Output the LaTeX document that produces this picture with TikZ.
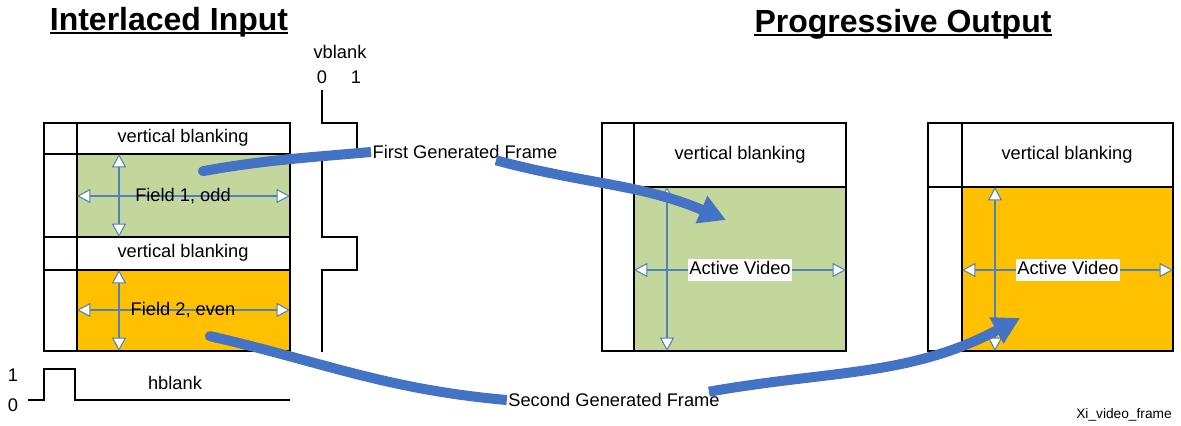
\documentclass[tikz,border=0pt]{standalone}
\usepackage{fontspec}
\setmainfont{Liberation Sans}
\usetikzlibrary{arrows.meta}

\definecolor{fieldgreen}{RGB}{195,214,155}
\definecolor{fieldorange}{RGB}{255,192,0}
\definecolor{dimblue}{RGB}{79,129,189}
\definecolor{flowblue}{RGB}{68,114,196}

\tikzset{
  txt/.style={font=\fontsize{13.7pt}{16pt}\selectfont, inner sep=1pt},
  small/.style={font=\fontsize{10.3pt}{12pt}\selectfont, inner sep=0pt},
  heading/.style={font=\fontsize{24pt}{28pt}\selectfont\bfseries, inner sep=0pt, anchor=base},
  headrule/.style={line width=1.8pt},
  cell/.style={draw=black, line width=0.8pt},
  wave/.style={draw=black, line width=1pt},
  dimarrow/.style={draw=dimblue, line width=0.8pt,
    {Triangle[width=10.5pt,length=10pt,fill=white]}-{Triangle[width=10.5pt,length=10pt,fill=white]}},
  flow/.style={draw=flowblue, line width=7.5pt},
  flowhead/.style={flow, -{Triangle[width=21pt,length=20pt]}},
  avlabel/.style={txt, fill=white, text height=11pt, text depth=4pt},
  framelabel/.style={txt, fill=white},
}

\begin{document}
\begin{tikzpicture}[x=0.75pt, y=0.75pt]
  \useasboundingbox (0,0) rectangle (1181,-425);

  % headings
  \node[heading] (intitle) at (169,-30) {Interlaced Input};
  \draw[headrule] ([yshift=-2.3pt]intitle.base west) -- ([yshift=-2.3pt]intitle.base east);
  \node[heading] (outtitle) at (903,-32) {Progressive Output};
  \draw[headrule] ([yshift=-2.3pt]outtitle.base west) -- ([yshift=-2.3pt]outtitle.base east);

  % interlaced input
  \filldraw[cell, fill=white] (44,-123) rectangle (77,-154);
  \filldraw[cell, fill=white] (77,-123) rectangle (290,-154);
  \filldraw[cell, fill=white] (44,-154) rectangle (77,-237);
  \filldraw[cell, fill=fieldgreen] (77,-154) rectangle (290,-237);
  \filldraw[cell, fill=white] (44,-237) rectangle (77,-270);
  \filldraw[cell, fill=white] (77,-237) rectangle (290,-270);
  \filldraw[cell, fill=white] (44,-270) rectangle (77,-351);
  \filldraw[cell, fill=fieldorange] (77,-270) rectangle (290,-351);
  \draw[dimarrow] (119,-154) -- (119,-237);
  \draw[dimarrow] (77,-196) -- (290,-196);
  \draw[dimarrow] (119,-270) -- (119,-351);
  \draw[dimarrow] (77,-310) -- (290,-310);
  \node[txt] (blankodd) at (183,-138) {vertical blanking};
  \node[txt] (fieldodd) at (183,-196) {Field 1, odd};
  \node[txt] (blankeven) at (183,-253) {vertical blanking};
  \node[txt] (fieldeven) at (183,-310) {Field 2, even};

  % vblank
  \draw[wave] (322,-90) -- (322,-123) -- (357,-123) -- (357,-154) -- (322,-154)
    -- (322,-237) -- (357,-237) -- (357,-270) -- (322,-270) -- (322,-352);
  \node[txt] (vblank) at (340,-52) {vblank};
  \node[txt] (vlow) at (322,-77) {0};
  \node[txt] (vhigh) at (356,-77) {1};

  % hblank
  \draw[wave] (28,-400) -- (44,-400) -- (44,-369) -- (75,-369) -- (75,-400) -- (290,-400);
  \node[txt] (hhigh) at (13,-375) {1};
  \node[txt] (hlow) at (13,-405) {0};
  \node[txt] (hblank) at (175,-383) {hblank};

  % first output frame
  \filldraw[cell, fill=white] (602,-123) rectangle (634,-187);
  \filldraw[cell, fill=white] (634,-123) rectangle (846,-187);
  \filldraw[cell, fill=white] (602,-187) rectangle (634,-351);
  \filldraw[cell, fill=fieldgreen] (634,-187) rectangle (846,-351);
  \draw[dimarrow] (667,-187) -- (667,-351);
  \draw[dimarrow] (634,-270) -- (846,-270);
  \node[txt] (blankfirst) at (740,-155) {vertical blanking};
  \node[avlabel] (activefirst) at (740,-270) {Active Video};

  % second output frame
  \filldraw[cell, fill=white] (928,-123) rectangle (962,-187);
  \filldraw[cell, fill=white] (962,-123) rectangle (1173,-187);
  \filldraw[cell, fill=white] (928,-187) rectangle (962,-351);
  \filldraw[cell, fill=fieldorange] (962,-187) rectangle (1173,-351);
  \draw[dimarrow] (995,-187) -- (995,-351);
  \draw[dimarrow] (962,-270) -- (1173,-270);
  \node[txt] (blanksecond) at (1067,-155) {vertical blanking};
  \node[avlabel] (activesecond) at (1068,-270) {Active Video};

  % generated frames
  \coordinate (odd) at (198,-172);
  \coordinate (firsttip) at (726,-220);
  \node[framelabel] (firstlbl) at (465,-152) {First Generated Frame};
  \draw[flow, {Round Cap[]}-] (odd) to[out=10, in=185] (firstlbl.west);
  \draw[flowhead] (firstlbl) to[out=-15, in=157] (firsttip);

  \coordinate (even) at (205,-335);
  \coordinate (secondtip) at (1020,-318);
  \node[framelabel] (secondlbl) at (614,-400) {Second Generated Frame};
  \draw[flow, {Round Cap[]}-] (even) to[out=-13, in=175] (secondlbl.west);
  \draw[flowhead] (secondlbl.5) to[out=10, in=-152] (secondtip);

  \node[small, anchor=east] (figname) at (1172,-415) {Xi\_video\_frame};
\end{tikzpicture}
\end{document}
